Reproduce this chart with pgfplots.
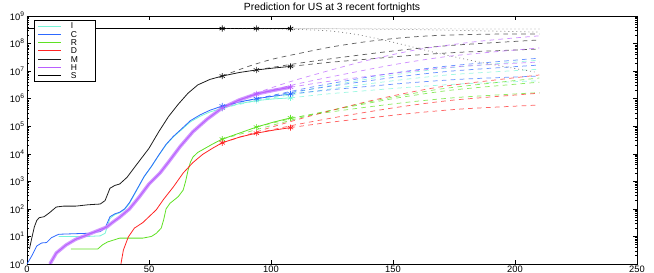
\documentclass[border=0pt]{standalone}
\usepackage{fontspec}
\setmainfont{Liberation Sans}
\usepackage{pgfplots}
\pgfplotsset{compat=1.18}
\definecolor{cI}{RGB}{120,245,215}
\definecolor{cC}{RGB}{45,105,255}
\definecolor{cR}{RGB}{95,225,35}
\definecolor{cD}{RGB}{255,35,35}
\definecolor{cM}{RGB}{30,30,30}
\definecolor{cH}{RGB}{185,95,255}
\definecolor{cS}{RGB}{0,0,0}
\tikzset{
  sol/.style={line width=0.6pt},
  pred/.style={line width=0.55pt, dash pattern=on 3.5pt off 3.2pt, opacity=0.7, smooth, tension=0.45},
  predS/.style={line width=0.55pt, dash pattern=on 0.7pt off 2.3pt, opacity=0.65, smooth, tension=0.45, color=black!75},
  mk/.style={only marks, mark=asterisk, mark size=2.3pt, mark options={line width=0.5pt}},
}
\newcommand{\legtxt}[1]{\makebox[15pt][l]{#1}}
\begin{document}
\begin{tikzpicture}
\begin{axis}[
  name=ax,
  scale only axis, width=457.5pt, height=186pt,
  xmin=0, xmax=250, ymin=1, ymax=1e9, ymode=log,
  xtick={0,50,100,150,200,250},
  ytick={1,10,100,1000,1e4,1e5,1e6,1e7,1e8,1e9},
  tick align=inside,
  major tick length=3pt, minor tick length=1.6pt,
  every tick/.style={line width=0.4pt, black},
  axis line style={line width=0.6pt},
  /pgf/number format/assume math mode=true,
  log number format basis/.code 2 args={#1\textsuperscript{\pgfmathprintnumber{#2}}},
  tick label style={font=\fontsize{7}{7.5}\selectfont},
  xticklabel style={inner sep=1pt, yshift=-0.3pt},
  yticklabel style={inner sep=1.5pt},
  title={Prediction for US at 3 recent fortnights},
  every axis title/.style={at={(0.5,1)}, anchor=south, inner sep=1pt, yshift=1.2pt, font=\fontsize{7.8}{8}\selectfont},
  legend cell align=left,
  legend style={at={(0.011,0.985)}, anchor=north west, font=\fontsize{6.4}{6.4}\selectfont,
    row sep=1.2pt, inner xsep=3pt, inner ysep=2pt, draw=black, line width=0.5pt,
    nodes={inner sep=0pt, text height=4.7pt, text depth=0.3pt}, column sep=7pt},
  legend image code/.code={\draw[#1] (0pt,0pt) -- (17pt,0pt);},
]
% ---------- observed ----------
\addplot[sol, cI] coordinates {(13,10)(20,10)(25,10)(30,10.5)(32,13)(34,45)(36,62)(38,72)(40,95)(42,155)(45,480)(48,1450)(51,3400)(54,8700)(57,2.1e4)(60,4.1e4)(63,7e4)(67,1.45e5)(71,2.3e5)(75,3.3e5)(80,4.5e5)(87,6.6e5)(94,8.5e5)(101,9.8e5)(108,1.07e6)};
\addlegendentry{\legtxt{I}}
\addplot[sol, cC] coordinates {(0,1)(2,2)(4,4.5)(6,5.8)(8,6)(10,9)(13,12)(20,12.6)(25,13)(30,15)(32,20)(34,52)(36,66)(38,76)(40,100)(42,170)(45,500)(48,1500)(51,3500)(54,9000)(57,2.2e4)(60,4.3e4)(63,7.5e4)(67,1.6e5)(71,2.6e5)(75,3.8e5)(80,5.4e5)(87,7.6e5)(94,1e6)(101,1.23e6)(108,1.48e6)};
\addlegendentry{\legtxt{C}}
\addplot[sol, cR] coordinates {(18,3.5)(29,3.5)(31,5)(33,6.3)(38,8.7)(47.5,8.7)(51,10)(53,13)(55,20)(56,40)(57,100)(58.6,160)(60,200)(62,280)(64,480)(65,1000)(66,2500)(67,5000)(68,7600)(70,1.12e4)(72,1.41e4)(76,2.24e4)(80,3.4e4)(87,5.6e4)(94,9.3e4)(101,1.41e5)(108,2e5)};
\addlegendentry{\legtxt{R}}
\addplot[sol, cD] coordinates {(38.5,1)(39.5,3.2)(41.5,9.5)(44,20)(47.5,32)(50,52)(53,93)(56,224)(60,630)(64,2000)(68,4800)(72,9500)(76,1.58e4)(80,2.5e4)(87,4e4)(94,5.6e4)(101,7.2e4)(108,8.9e4)};
\addlegendentry{\legtxt{D}}
\addplot[sol, cM] coordinates {(1,3.5)(2,9)(3,22)(4,38)(5,48)(7,52)(9,70)(12,117)(15,126)(20,126)(25,141)(30,150)(32,200)(34,560)(36,710)(38,800)(41,1400)(44,3160)(47,7080)(50,1.58e4)(54,6.3e4)(58,2.24e5)(62,6.3e5)(66,1.58e6)(70,3.16e6)(75,5.0e6)(80,6.6e6)(87,8.9e6)(94,1.1e7)(101,1.29e7)(108,1.48e7)};
\addlegendentry{\legtxt{M}}
\addplot[sol, cH] coordinates {(9.4,1)(12,2.5)(16,4.9)(20,7.9)(24.5,11.2)(28,15)(32.7,22)(35,32)(38,50)(42,100)(46,270)(50,800)(54.5,2000)(58,5000)(62.7,1.8e4)(68,6.3e4)(73.8,1.8e5)(80,4.6e5)(87,9e5)(94,1.48e6)(101,2.0e6)(108,2.6e6)};
\addlegendentry{\legtxt{H}}
\addplot[sol, cS] coordinates {(0,3.5e8)(108,3.5e8)};
\addlegendentry{\legtxt{S}}
% H band
\addplot[forget plot, cH!75!white, line width=2.6pt, opacity=0.85] coordinates {(9.4,1)(12,2.5)(16,4.9)(20,7.9)(24.5,11.2)(28,15)(32.7,22)(35,32)(38,50)(42,100)(46,270)(50,800)(54.5,2000)(58,5000)(62.7,1.8e4)(68,6.3e4)(73.8,1.8e5)(80,4.6e5)(87,9e5)(94,1.48e6)(101,2.0e6)(108,2.6e6)};
\addplot[forget plot, sol, cH] coordinates {(9.4,1)(12,2.5)(16,4.9)(20,7.9)(24.5,11.2)(28,15)(32.7,22)(35,32)(38,50)(42,100)(46,270)(50,800)(54.5,2000)(58,5000)(62.7,1.8e4)(68,6.3e4)(73.8,1.8e5)(80,4.6e5)(87,9e5)(94,1.48e6)(101,2.0e6)(108,2.6e6)};
% ---------- predictions ----------
\addplot[forget plot, pred, cI] coordinates {(80,4.5e5)(100,1.1e6)(119,2.45e6)(145,6.17e6)(171,1.26e7)(210,2.51e7)};
\addplot[forget plot, pred, cI] coordinates {(94,8.5e5)(111,1.51e6)(129,2.57e6)(152,4.68e6)(175,7.59e6)(210,1.17e7)};
\addplot[forget plot, pred, cI] coordinates {(108,1.07e6)(123,1.48e6)(139,1.95e6)(159,2.69e6)(179,3.47e6)(210,4.47e6)};
\addplot[forget plot, pred, cC] coordinates {(80,5.4e5)(100,1.29e6)(119,2.88e6)(145,7.24e6)(171,1.48e7)(210,2.95e7)};
\addplot[forget plot, pred, cC] coordinates {(94,1e6)(111,1.86e6)(129,3.24e6)(152,6.17e6)(175,1.02e7)(210,1.66e7)};
\addplot[forget plot, pred, cC] coordinates {(108,1.48e6)(123,2.04e6)(139,2.75e6)(159,3.89e6)(179,5.13e6)(210,6.61e6)};
\addplot[forget plot, pred, cR] coordinates {(80,3.4e4)(100,1.05e5)(119,2.88e5)(145,9.33e5)(171,2.34e6)(210,5.62e6)};
\addplot[forget plot, pred, cR] coordinates {(94,9.3e4)(111,2.14e5)(129,4.47e5)(152,1.07e6)(175,2.09e6)(210,3.98e6)};
\addplot[forget plot, pred, cR] coordinates {(108,2e5)(123,3.16e5)(139,4.9e5)(159,7.94e5)(179,1.15e6)(210,1.66e6)};
\addplot[forget plot, pred, cD] coordinates {(80,2.5e4)(100,9.12e4)(119,2.75e5)(145,1.02e6)(171,2.82e6)(210,7.24e6)};
\addplot[forget plot, pred, cD] coordinates {(94,5.6e4)(111,1.17e5)(129,2.29e5)(152,4.9e5)(175,8.91e5)(210,1.58e6)};
\addplot[forget plot, pred, cD] coordinates {(108,8.9e4)(123,1.35e5)(139,1.95e5)(159,3.02e5)(179,4.27e5)(210,5.89e5)};
\addplot[forget plot, pred, cM] coordinates {(80,6.6e6)(90,1.41e7)(100,2.63e7)(112,4.47e7)(125,7.59e7)(140,1.2e8)(155,1.66e8)(170,2e8)(190,2.19e8)(210,2.24e8)};
\addplot[forget plot, pred, cM] coordinates {(94,1.1e7)(111,1.91e7)(129,3.16e7)(152,5.62e7)(175,8.71e7)(210,1.35e8)};
\addplot[forget plot, pred, cM] coordinates {(108,1.48e7)(123,2.04e7)(139,2.69e7)(159,3.8e7)(179,4.9e7)(210,6.31e7)};
\addplot[forget plot, pred, cH] coordinates {(80,4.6e5)(94,1.58e6)(108,4.17e6)(125,1.12e7)(140,2.51e7)(160,6.03e7)(185,1.2e8)(210,1.91e8)};
\addplot[forget plot, pred, cH] coordinates {(94,1.48e6)(111,3.47e6)(129,7.41e6)(152,1.82e7)(175,3.63e7)(210,6.92e7)};
\addplot[forget plot, pred, cH] coordinates {(108,2.6e6)(123,4.17e6)(139,6.31e6)(159,1.02e7)(179,1.51e7)(210,2.14e7)};
\addplot[forget plot, predS] coordinates {(80,3.5e8)(100,3.4e8)(115,3.16e8)(125,2.82e8)(135,2.14e8)(145,1.41e8)(156,8.32e7)(165,5.25e7)(184,2.24e7)(208,9.33e6)};
\addplot[forget plot, predS] coordinates {(94,3.5e8)(130,3.4e8)(160,3.2e8)(185,2.9e8)(210,2.6e8)};
\addplot[forget plot, predS] coordinates {(108,3.5e8)(150,3.45e8)(210,3.35e8)};
% ---------- fortnight markers ----------
\addplot[forget plot, mk, cI] coordinates {(80,4.5e5)(94,8.5e5)(108,1.07e6)};
\addplot[forget plot, mk, cC] coordinates {(80,5.4e5)(94,1e6)(108,1.48e6)};
\addplot[forget plot, mk, cR] coordinates {(80,3.4e4)(94,9.3e4)(108,2e5)};
\addplot[forget plot, mk, cD] coordinates {(80,2.5e4)(94,5.6e4)(108,8.9e4)};
\addplot[forget plot, mk, cM] coordinates {(80,6.6e6)(94,1.1e7)(108,1.48e7)};
\addplot[forget plot, mk, cH] coordinates {(80,4.6e5)(94,1.48e6)(108,2.6e6)};
\addplot[forget plot, mk, cS] coordinates {(80,3.5e8)(94,3.5e8)(108,3.5e8)};
\end{axis}
\pgfresetboundingbox
\path[use as bounding box] ([xshift=-20.25pt,yshift=-6.75pt]ax.south west) rectangle ([xshift=12.75pt,yshift=12pt]ax.north east);
\end{tikzpicture}
\end{document}
